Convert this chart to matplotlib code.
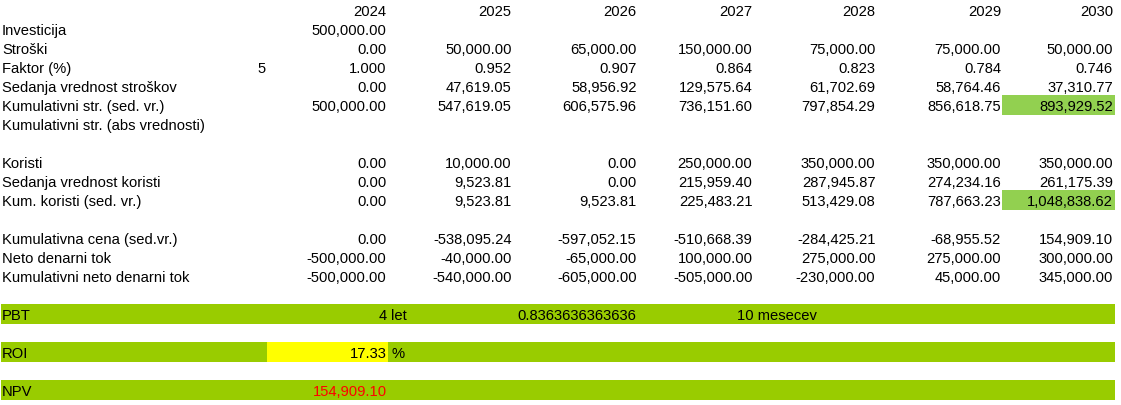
import matplotlib
matplotlib.use("Agg")
import matplotlib.pyplot as plt
from matplotlib.patches import Rectangle

plt.rcParams['font.family'] = ['Liberation Sans', 'DejaVu Sans']

# data
years = [2024, 2025, 2026, 2027, 2028, 2029, 2030]
investicija = [500000.00]
stroski = [0.00, 50000.00, 65000.00, 150000.00, 75000.00, 75000.00, 50000.00]
faktor_pct = 5
faktor = [1.000, 0.952, 0.907, 0.864, 0.823, 0.784, 0.746]
sed_stroski = [0.00, 47619.05, 58956.92, 129575.64, 61702.69, 58764.46, 37310.77]
kum_str = [500000.00, 547619.05, 606575.96, 736151.60, 797854.29, 856618.75, 893929.52]
koristi = [0.00, 10000.00, 0.00, 250000.00, 350000.00, 350000.00, 350000.00]
sed_koristi = [0.00, 9523.81, 0.00, 215959.40, 287945.87, 274234.16, 261175.39]
kum_koristi = [0.00, 9523.81, 9523.81, 225483.21, 513429.08, 787663.23, 1048838.62]
kum_cena = [0.00, -538095.24, -597052.15, -510668.39, -284425.21, -68955.52, 154909.10]
neto_tok = [-500000.00, -40000.00, -65000.00, 100000.00, 275000.00, 275000.00, 300000.00]
kum_neto = [-500000.00, -540000.00, -605000.00, -505000.00, -230000.00, 45000.00, 345000.00]
pbt_years = 4
pbt_frac = 0.8363636363636
pbt_months = 10
roi = 17.33
npv = 154909.10

# layout (pixels)
W, H = 1121, 405
RH = 19
col_right = [387.5, 512.5, 637.5, 753.5, 876.5, 1002, 1114]
GREEN_BAR = '#99cc00'
GREEN_CELL = '#92d050'

fig = plt.figure(figsize=(W / 100, H / 100), dpi=100)
ax = fig.add_axes([0, 0, 1, 1])
ax.set_xlim(0, W)
ax.set_ylim(H, 0)
ax.axis('off')

FS = 10.6


def base(r):
    return RH * r + 16


def label(r, s):
    ax.text(2, base(r), s, fontsize=FS, ha='left', va='baseline')


def num(r, c, s, color='black'):
    ax.text(col_right[c] - 1, base(r), s, fontsize=FS, ha='right',
            va='baseline', color=color)


def fmt(v):
    return f"{v:,.2f}"


# header row
for c, y in enumerate(years):
    num(0, c, str(y))

label(1, 'Investicija')
num(1, 0, fmt(investicija[0]))

rows = [
    (2, 'Stroški', stroski, fmt),
    (3, 'Faktor (%)', faktor, lambda v: f"{v:.3f}"),
    (4, 'Sedanja vrednost stroškov', sed_stroski, fmt),
    (5, 'Kumulativni str. (sed. vr.)', kum_str, fmt),
    (8, 'Koristi', koristi, fmt),
    (9, 'Sedanja vrednost koristi', sed_koristi, fmt),
    (10, 'Kum. koristi (sed. vr.)', kum_koristi, fmt),
    (12, 'Kumulativna cena (sed.vr.)', kum_cena, fmt),
    (13, 'Neto denarni tok', neto_tok, fmt),
    (14, 'Kumulativni neto denarni tok', kum_neto, fmt),
]

# highlighted cells
for r in (5, 10):
    ax.add_patch(Rectangle((col_right[5], RH * r), col_right[6] - col_right[5] + 1,
                           RH + 1, color=GREEN_CELL, lw=0))

for r, name, vals, f in rows:
    label(r, name)
    for c, v in enumerate(vals):
        num(r, c, f(v))

ax.text(266, base(3), str(faktor_pct), fontsize=FS, ha='right', va='baseline')
label(6, 'Kumulativni str. (abs vrednosti)')

# summary bars
for r in (16, 18, 20):
    ax.add_patch(Rectangle((1, RH * r), 1114, RH + 1, color=GREEN_BAR, lw=0))
ax.add_patch(Rectangle((267, RH * 18), 120.5, RH + 1, color='#ffff00', lw=0))

label(16, 'PBT')
num(16, 0, str(pbt_years))
ax.text(391, base(16), 'let', fontsize=FS, ha='left', va='baseline')
num(16, 2, str(pbt_frac))
ax.text(737, base(16), f'{pbt_months} mesecev', fontsize=FS, ha='left', va='baseline')

label(18, 'ROI')
num(18, 0, f"{roi:.2f}")
ax.text(391, base(18), '%', fontsize=FS, ha='left', va='baseline')

label(20, 'NPV')
num(20, 0, fmt(npv), color='#ff0000')

fig.savefig('out.png', dpi=100)
